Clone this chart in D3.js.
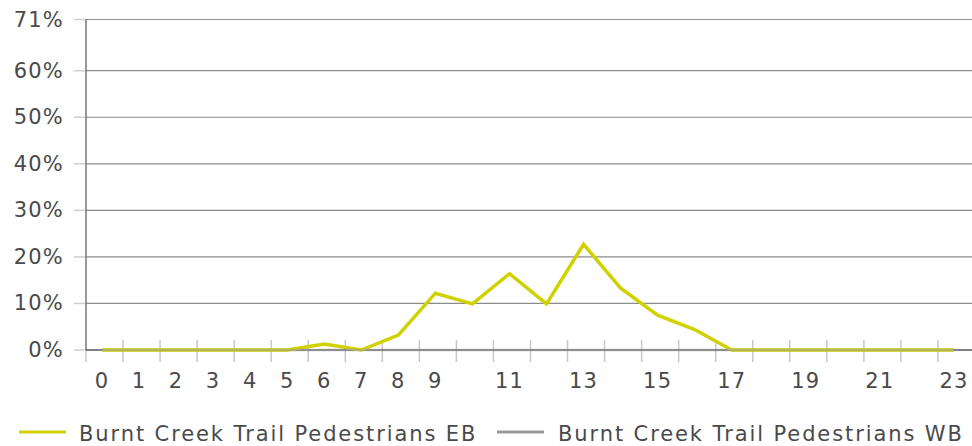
<!DOCTYPE html>
<html>
<head>
<meta charset="utf-8">
<script src="https://cdn.jsdelivr.net/npm/d3@7"></script>
<style>
  html, body { margin: 0; padding: 0; background: #fff; }
  svg text { font-family: "DejaVu Sans", sans-serif; fill: #4a4a4a; letter-spacing: 1.2px; }
  svg text.legend { letter-spacing: 1.9px; }
</style>
</head>
<body>
<svg id="chart" width="972" height="446"></svg>
<script>
const hours = d3.range(0, 24).map(String);
const shownHourLabels = ["0","1","2","3","4","5","6","7","8","9","11","13","15","17","19","21","23"];
const ebValues = [0, 0, 0, 0, 0, 0, 1.3, 0, 3.2, 12.2, 9.9, 16.4, 9.9, 22.7, 13.3, 7.5, 4.4, 0, 0, 0, 0, 0, 0, 0];
const wbValues = [0, 0, 0, 0, 0, 0, 0, 0, 0, 0, 0, 0, 0, 0, 0, 0, 0, 0, 0, 0, 0, 0, 0, 0];
const yTicks = [0, 10, 20, 30, 40, 50, 60, 71];
const seriesNames = ["Burnt Creek Trail Pedestrians EB", "Burnt Creek Trail Pedestrians WB"];
const seriesColors = ["#d0d200", "#9a9a9a"];

const svg = d3.select("#chart");
const plotLeft = 86, plotRight = 972, plotTop = 19.5, plotBottom = 350;

const x = d3.scaleBand().domain(hours).range([plotLeft, 975]).paddingInner(0).paddingOuter(0);
const xc = d => x(d) + x.bandwidth() / 2 - 2.5;
const y = d3.scaleLinear().domain([0, 71]).range([plotBottom, plotTop]);

// gridlines
const grid = svg.append("g");
yTicks.forEach(t => {
  grid.append("line").attr("x1", 74).attr("x2", plotLeft).attr("y1", y(t)).attr("y2", y(t))
    .attr("stroke", "#cfcfcf").attr("stroke-width", 1.5);
  if (t !== 0) {
    grid.append("line").attr("x1", plotLeft).attr("x2", plotRight).attr("y1", y(t)).attr("y2", y(t))
      .attr("stroke", "#8c8c8c").attr("stroke-width", 1.2);
  }
});

// y labels
svg.append("g").selectAll("text").data(yTicks).join("text")
  .attr("x", 64).attr("y", d => y(d) + 7).attr("text-anchor", "end")
  .attr("font-size", 21).text(d => d + "%");

// x tick marks at band boundaries
svg.append("g").selectAll("line").data(hours).join("line")
  .attr("x1", d => x(d)).attr("x2", d => x(d))
  .attr("y1", d => d === "0" ? plotBottom : plotBottom - 10).attr("y2", plotBottom + 12)
  .attr("stroke", "#c8c8c8").attr("stroke-width", 1.5);

// y axis line
svg.append("line").attr("x1", plotLeft).attr("x2", plotLeft).attr("y1", plotTop).attr("y2", plotBottom)
  .attr("stroke", "#777").attr("stroke-width", 1.5);
// x axis line
svg.append("line").attr("x1", plotLeft).attr("x2", plotRight).attr("y1", plotBottom).attr("y2", plotBottom)
  .attr("stroke", "#555").attr("stroke-width", 1.5);

// x labels
svg.append("g").selectAll("text").data(shownHourLabels).join("text")
  .attr("x", d => xc(d)).attr("y", 388).attr("text-anchor", "middle")
  .attr("font-size", 21).text(d => d);

// lines
const line = d3.line().x((d, i) => xc(hours[i])).y(d => y(d));
svg.append("path").datum(ebValues).attr("d", line).attr("fill", "none")
  .attr("stroke", seriesColors[0]).attr("stroke-width", 3.5).attr("stroke-linejoin", "miter");
svg.append("path").datum(wbValues).attr("d", line).attr("fill", "none")
  .attr("stroke", seriesColors[1]).attr("stroke-opacity", 0.55).attr("stroke-width", 2.5);

// legend
const legendPos = [{lx: 19, tx: 79}, {lx: 497, tx: 558}];
const lg = svg.append("g");
seriesNames.forEach((name, i) => {
  lg.append("line").attr("x1", legendPos[i].lx).attr("x2", legendPos[i].lx + 47)
    .attr("y1", 432).attr("y2", 432).attr("stroke", seriesColors[i]).attr("stroke-width", 3);
  lg.append("text").attr("class", "legend").attr("x", legendPos[i].tx).attr("y", 441)
    .attr("font-size", 21).text(name);
});
</script>
</body>
</html>
